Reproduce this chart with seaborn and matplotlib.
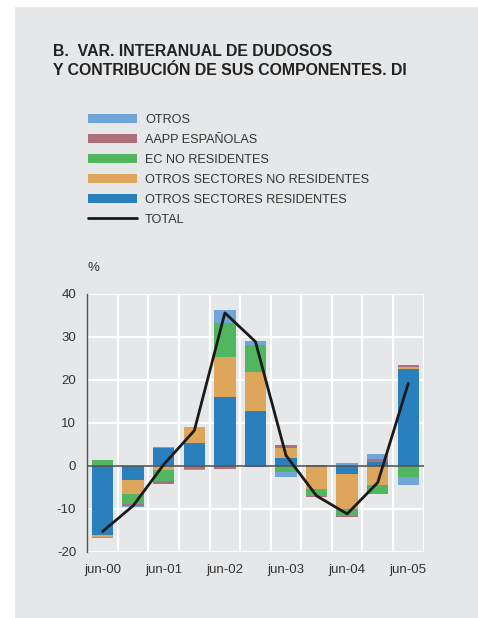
import numpy as np
import pandas as pd
import matplotlib
matplotlib.use("Agg")
import matplotlib.pyplot as plt
from matplotlib.patches import Rectangle
from matplotlib.lines import Line2D
import seaborn as sns

# DATOS

periods = ["jun-00", "dic-00", "jun-01", "dic-01", "jun-02", "dic-02",
           "jun-03", "dic-03", "jun-04", "dic-04", "jun-05"]

osr = [-16.2, -3.4, 4.2, 5.2, 16.0, 12.7, 1.7, 0.3, -2.0, 1.0, 22.5]
osnr = [-0.4, -3.2, -1.0, 3.8, 9.3, 9.1, 2.5, -5.5, -8.1, -4.5, 0.4]
ec_nores = [1.3, -2.4, -2.6, -0.1, 7.9, 6.3, -1.4, -1.5, -1.6, -2.1, -2.6]
aapp = [0.0, -0.4, -0.6, -0.6, -0.7, -0.2, 0.6, -0.3, -0.2, 0.5, 0.6]
otros = [-0.2, -0.2, 0.2, -0.3, 3.0, 0.9, -1.2, 0.0, 0.6, 1.2, -1.8]
total = [-15.3, -9.3, 0.3, 8.2, 35.6, 28.9, 2.4, -7.0, -11.2, -3.9, 19.2]

shown_ticks = ["jun-00", "jun-01", "jun-02", "jun-03", "jun-04", "jun-05"]

# ESTILO

bg = "#e6e7e9"
txt = "#333333"

sns.set_style("white")
plt.rcParams["font.family"] = ["Liberation Sans", "DejaVu Sans"]
plt.rcParams["axes.unicode_minus"] = False

fig = plt.figure(figsize=(4.78, 6.18), dpi=100, facecolor="white")
fig.patches.append(Rectangle((15 / 478, 0), 1, 1 - 7 / 618,
                             transform=fig.transFigure,
                             facecolor=bg, edgecolor="none", zorder=-10))

ax = fig.add_axes([87.3 / 478, 1 - 551.7 / 618, 336.3 / 478, 257.7 / 618])
ax.set_facecolor(bg)

# BARRAS APILADAS (positivos hacia arriba, negativos hacia abajo)

components = [
    ("OTROS SECTORES RESIDENTES", osr, "#2a80bc"),
    ("OTROS SECTORES NO RESIDENTES", osnr, "#dda65a"),
    ("EC NO RESIDENTES", ec_nores, "#52b560"),
    ("AAPP ESPAÑOLAS", aapp, "#ad6f7a"),
    ("OTROS", otros, "#70a5d9"),
]

pos_base = np.zeros(len(periods))
neg_base = np.zeros(len(periods))

for name, vals, color in components:
    vals = np.array(vals)
    bottoms = np.where(vals >= 0, pos_base, neg_base)
    sns.barplot(
        x=periods,
        y=vals,
        order=periods,
        color=color,
        saturation=1,
        width=0.7,
        errorbar=None,
        linewidth=0,
        bottom=bottoms,
        ax=ax,
        zorder=2
    )
    pos_base = pos_base + np.where(vals >= 0, vals, 0)
    neg_base = neg_base + np.where(vals < 0, vals, 0)

ax.axhline(0, color="#555555", lw=1.2, zorder=3)

sns.lineplot(x=np.arange(len(periods)), y=total, color="#1a1a1a",
             lw=2.0, ax=ax, zorder=4)

# EJES

ax.set_xlim(-0.5, len(periods) - 0.5)
ax.set_ylim(-20, 40)
ax.set_yticks(range(-20, 41, 10))
ax.set_xticks([periods.index(p) for p in shown_ticks])
ax.set_xticklabels(shown_ticks)
ax.set_xticks(np.arange(-0.5, len(periods), 1), minor=True)

ax.set_axisbelow(True)
ax.grid(False)
ax.yaxis.grid(True, color="white", lw=1.6)
ax.xaxis.grid(True, which="minor", color="white", lw=1.6)

for side in ["top", "right", "bottom"]:
    ax.spines[side].set_visible(False)
ax.spines["left"].set_color("#555555")
ax.spines["left"].set_linewidth(1.0)

ax.tick_params(axis="both", which="both", length=0, labelsize=9.5,
               labelcolor=txt)
ax.tick_params(axis="y", pad=8)
ax.tick_params(axis="x", pad=9)
ax.set_xlabel("")
ax.set_ylabel("")

fig.text(87 / 478, 1 - 268 / 618, "%", fontsize=9.5, color=txt,
         ha="left", va="center")

# TITULO

fig.text(53 / 478, 1 - 44.5 / 618,
         "B.  VAR. INTERANUAL DE DUDOSOS\nY CONTRIBUCIÓN DE SUS COMPONENTES. DI",
         fontsize=11.4, fontweight="bold", color="#222222",
         ha="left", va="top", linespacing=1.32)

# LEYENDA

handles = []
labels = []
for name, vals, color in components[::-1]:
    handles.append(Rectangle((0, 0), 1, 1, facecolor=color, edgecolor="none"))
    labels.append(name)
handles.append(Line2D([0], [0], color="#1a1a1a", lw=2.0))
labels.append("TOTAL")

leg = fig.legend(
    handles, labels,
    loc="upper left",
    bbox_to_anchor=(88 / 478, 1 - 114 / 618),
    frameon=False,
    fontsize=9.1,
    handlelength=3.9,
    handleheight=0.7,
    handletextpad=0.62,
    labelspacing=0.63,
    borderpad=0,
    borderaxespad=0
)
for t in leg.get_texts():
    t.set_color(txt)

fig.savefig("out.png", dpi=100, facecolor="white")
plt.close()
